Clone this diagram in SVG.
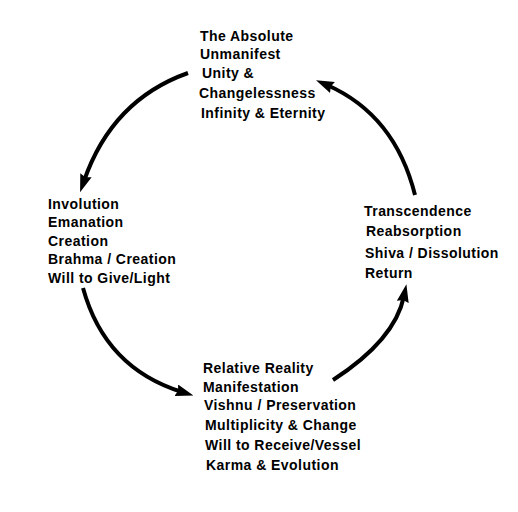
<svg xmlns="http://www.w3.org/2000/svg" width="518" height="512" viewBox="0 0 518 512">
<style>
text{font-family:"Liberation Sans",Arial,sans-serif;font-weight:bold;font-size:14px;letter-spacing:0.45px;fill:#000}
.arc{fill:none;stroke:#000;stroke-width:4;marker-end:url(#ah)}
</style>
<defs>
<marker id="ah" viewBox="0 0 18 12" markerWidth="18" markerHeight="12" refX="6" refY="6" markerUnits="userSpaceOnUse" orient="auto">
<path d="M0,0 L18,6 L0,12 L2,6 z" fill="#000"/>
</marker>
</defs>
<rect width="518" height="512" fill="#fff"/>
<g id="connectors">
<path class="arc" d="M188,73 Q112,100 84,181"/>
<path class="arc" d="M415,195 Q395,115 327,85"/>
<path class="arc" d="M83,288 Q105,368 182,392"/>
<path class="arc" d="M333,380 Q395,340 404,296"/>
</g>
<g id="absolute">
<text x="200" y="41">The Absolute</text>
<text x="200" y="59">Unmanifest</text>
<text x="202" y="78">Unity &amp;</text>
<text x="199" y="98">Changelessness</text>
<text x="201" y="118">Infinity &amp; Eternity</text>
</g>
<g id="involution">
<text x="48" y="209">Involution</text>
<text x="48" y="227">Emanation</text>
<text x="48" y="246">Creation</text>
<text x="48" y="264">Brahma / Creation</text>
<text x="48" y="283">Will to Give/Light</text>
</g>
<g id="transcendence">
<text x="364" y="216">Transcendence</text>
<text x="366" y="236">Reabsorption</text>
<text x="365" y="258">Shiva / Dissolution</text>
<text x="365" y="278">Return</text>
</g>
<g id="relative">
<text x="203" y="373">Relative Reality</text>
<text x="203" y="392">Manifestation</text>
<text x="204" y="410">Vishnu / Preservation</text>
<text x="205" y="430">Multiplicity &amp; Change</text>
<text x="205" y="450">Will to Receive/Vessel</text>
<text x="206" y="470">Karma &amp; Evolution</text>
</g>
</svg>
